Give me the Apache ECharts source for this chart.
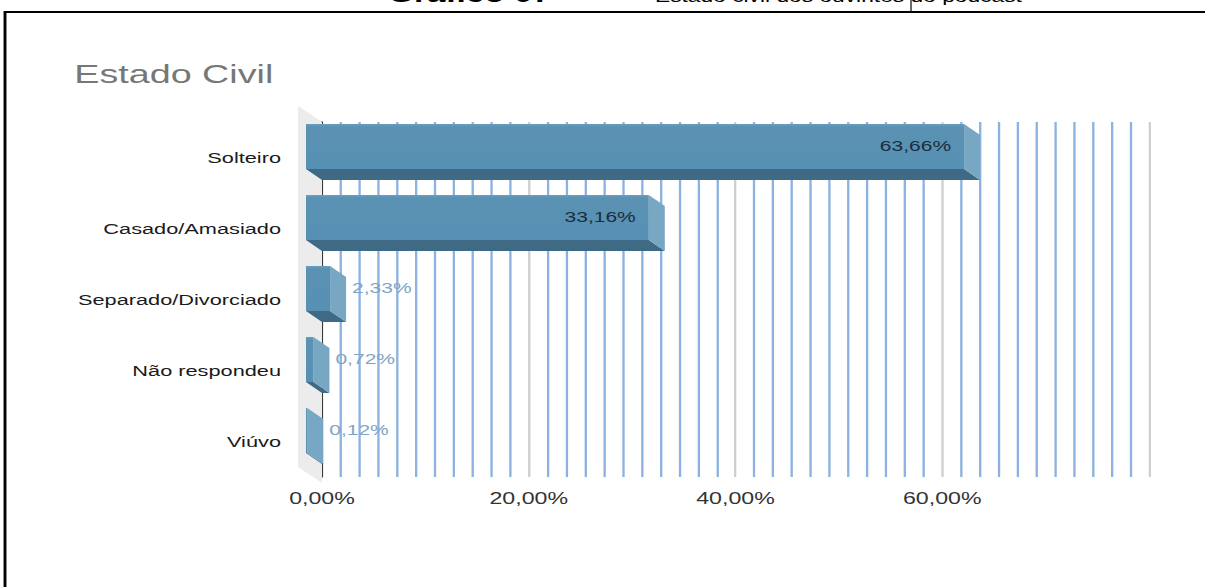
<!DOCTYPE html>
<html>
<head>
<meta charset="utf-8">
<script src="https://cdn.jsdelivr.net/npm/echarts@6/dist/echarts.min.js"></script>
<style>
  html, body { margin: 0; padding: 0; background: #fff; overflow: hidden; }
  #wrap { width: 1205px; height: 587px; overflow: hidden; position: relative; }
  #chart { position: absolute; left: 0; top: 0; height: 587px; transform-origin: 0 0; }
</style>
</head>
<body>
<div id="wrap"><div id="chart"></div></div>
<script>
// Marital status of the podcast's listeners (% of respondents)
const CATEGORIES = ['Solteiro', 'Casado/Amasiado', 'Separado/Divorciado', 'Não respondeu', 'Viúvo'];
const VALUES = [63.66, 33.16, 2.33, 0.72, 0.12];

// Value axis: 0 % to 80 %, labelled every 20 %, split into 11 minor lines
const AXIS_MIN = 0;
const AXIS_MAX = 80;
const AXIS_STEP = 20;
const MINOR_DIVISIONS = 11;

// The page is drawn narrow and widened horizontally, like the printed figure
const STRETCH = 1.45;
const PAGE_W = 1205, PAGE_H = 587;
const X = v => v / STRETCH;

const chartEl = document.getElementById('chart');
chartEl.style.width = X(PAGE_W) + 'px';
chartEl.style.transform = 'scaleX(' + STRETCH + ')';

// plot area (back plane) and 3-D depth of the bars
const GRID_LEFT = 322, GRID_RIGHT = 1149, GRID_TOP = 122, GRID_H = 355;
const DX = X(16), DY = 11, BAR_H = 45;
const FONT = '"Liberation Sans", Arial, Helvetica, sans-serif';

const pct = v => v.toFixed(2).replace('.', ',') + '%';

function renderBar(params, api) {
  const v = api.value(0);
  const idx = api.value(1);
  const end = api.coord([v, idx]);
  const start = api.coord([AXIS_MIN, idx]);
  const x0 = start[0], x1 = end[0], yb = end[1];
  const top = yb - DY - BAR_H / 2;
  const bot = yb - DY + BAR_H / 2;
  const inside = v > 10;
  const children = [
    { // underside
      type: 'polygon',
      shape: { points: [[x0 - DX, bot], [x1 - DX, bot], [x1, bot + DY], [x0, bot + DY]] },
      style: { fill: '#3e6a85' }
    },
    { // right end
      type: 'polygon',
      shape: { points: [[x1 - DX, top], [x1, top + DY], [x1, bot + DY], [x1 - DX, bot]] },
      style: { fill: '#78a7c4' }
    },
    { // front face
      type: 'rect',
      shape: { x: x0 - DX, y: top, width: Math.max(x1 - x0, 0), height: BAR_H },
      style: {
        fill: new echarts.graphic.LinearGradient(0, 0, 0, 1, [
          { offset: 0, color: '#6a9ebd' },
          { offset: 0.06, color: '#5b92b4' },
          { offset: 1, color: '#5690b2' }
        ])
      }
    },
    {
      type: 'text',
      style: {
        text: pct(v),
        x: inside ? x1 - DX - X(13) : x1 + X(6),
        y: yb - DY,
        align: inside ? 'right' : 'left',
        verticalAlign: 'middle',
        fill: inside ? '#1c2c3d' : '#7fa5c5',
        fontSize: 14.5,
        fontFamily: FONT
      }
    }
  ];
  return { type: 'group', children: children };
}

const chart = echarts.init(chartEl, null, { renderer: 'svg' });

const wallTop = GRID_TOP, wallBot = GRID_TOP + GRID_H + 6;
const WALL_DX = X(24), WALL_DY = 16;

chart.setOption({
  animation: false,
  backgroundColor: '#fff',
  title: {
    text: 'Estado Civil',
    left: X(67),
    top: 56,
    textStyle: { fontSize: 26, fontWeight: 'normal', color: '#777', fontFamily: FONT }
  },
  grid: {
    left: X(GRID_LEFT),
    width: X(GRID_RIGHT - GRID_LEFT),
    top: GRID_TOP,
    height: GRID_H
  },
  xAxis: {
    type: 'value',
    min: AXIS_MIN,
    max: AXIS_MAX,
    interval: AXIS_STEP,
    axisLine: { show: false },
    axisTick: { show: false },
    minorTick: { show: false, splitNumber: MINOR_DIVISIONS },
    splitLine: { show: true, lineStyle: { color: '#cfcfcf', width: 1.6 } },
    minorSplitLine: { show: true, lineStyle: { color: '#8cb2df', width: 1.6 } },
    axisLabel: {
      showMaxLabel: false,
      margin: 13,
      fontSize: 16,
      color: '#333',
      fontFamily: FONT,
      formatter: v => pct(v)
    }
  },
  yAxis: {
    type: 'category',
    data: CATEGORIES,
    inverse: true,
    axisLine: { show: true, lineStyle: { color: '#3a3a3a', width: 1.6 } },
    axisTick: { show: false },
    splitLine: { show: false },
    axisLabel: {
      margin: X(41),
      fontSize: 15,
      color: '#1a1a1a',
      fontFamily: FONT,
      verticalAlign: 'middle',
      padding: [0, 0, DY * 2, 0]
    }
  },
  series: [{
    type: 'custom',
    renderItem: renderBar,
    clip: false,
    z: 5,
    encode: { x: 0, y: 1 },
    data: VALUES.map((v, i) => [v, i])
  }],
  graphic: [
    { // left wall of the plot box
      type: 'polygon',
      z: 1,
      shape: {
        points: [
          [X(GRID_LEFT) - WALL_DX, wallTop - WALL_DY],
          [X(GRID_LEFT), wallTop],
          [X(GRID_LEFT), wallBot],
          [X(GRID_LEFT) - WALL_DX, wallBot - WALL_DY]
        ]
      },
      style: { fill: '#ececec' }
    },
    { // figure frame
      type: 'rect',
      z: 0,
      shape: { x: X(5), y: 12, width: X(1400), height: 700 },
      style: { fill: 'none', stroke: '#000', lineWidth: 2 }
    },
    {
      type: 'line',
      z: 0,
      shape: { x1: X(911), y1: 0, x2: X(911), y2: 12 },
      style: { stroke: '#000', lineWidth: 0.8 }
    },
    {
      type: 'text',
      z: 0,
      style: {
        text: 'Gráfico 07', x: X(388), y: -6,
        fontSize: 23, fontWeight: 'bold', fontFamily: FONT,
        fill: '#000', align: 'left', verticalAlign: 'middle'
      }
    },
    {
      type: 'text',
      z: 0,
      style: {
        text: '—', x: X(590), y: -4,
        fontSize: 15.7, fontFamily: FONT,
        fill: '#000', align: 'left', verticalAlign: 'middle'
      }
    },
    {
      type: 'text',
      z: 0,
      style: {
        text: 'Estado civil dos ouvintes do podcast', x: X(655), y: -3.5,
        fontSize: 15.7, fontFamily: FONT,
        fill: '#000', align: 'left', verticalAlign: 'middle'
      }
    }
  ]
});
</script>
</body>
</html>
